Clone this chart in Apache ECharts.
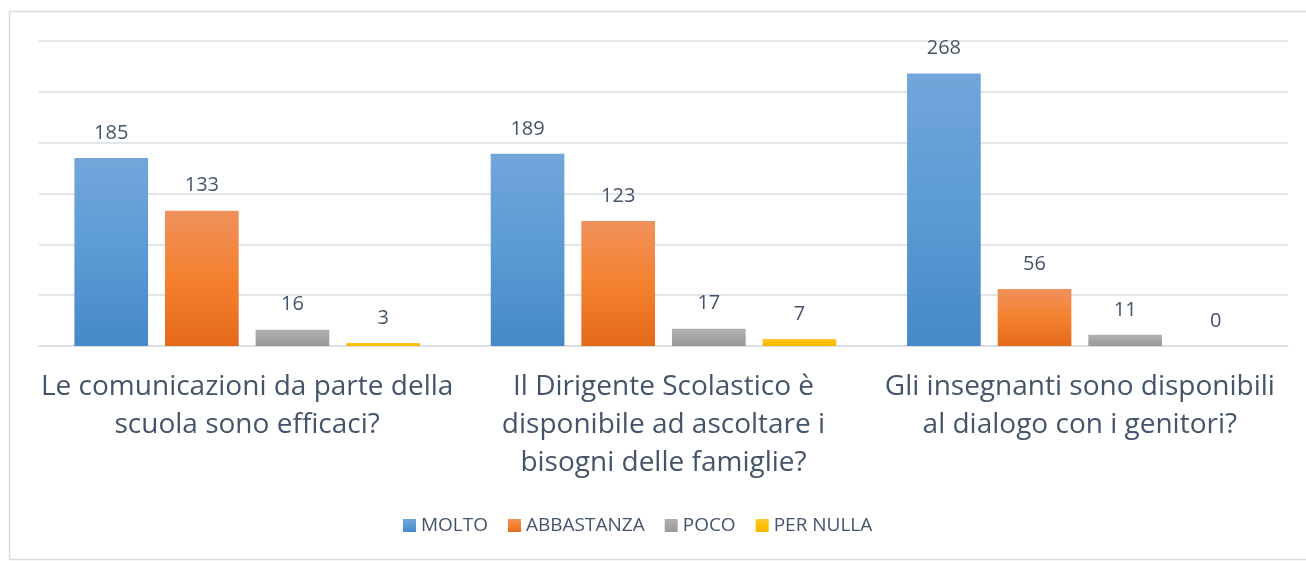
<!DOCTYPE html>
<html>
<head>
<meta charset="utf-8">
<script src="https://cdn.jsdelivr.net/npm/echarts@6/dist/echarts.min.js"></script>
<style>
  html, body { margin: 0; padding: 0; background: #fff; }
  #chart { width: 1306px; height: 561px; }
</style>
</head>
<body>
<div id="chart"></div>
<script>
// Chart data
const categories = [
  'Le comunicazioni da parte della\nscuola sono efficaci?',
  'Il Dirigente Scolastico è\ndisponibile ad ascoltare i\nbisogni delle famiglie?',
  'Gli insegnanti sono disponibili\nal dialogo con i genitori?'
];
const seriesNames = ['MOLTO', 'ABBASTANZA', 'POCO', 'PER NULLA'];
const molto = [185, 189, 268];
const abbastanza = [133, 123, 56];
const poco = [16, 17, 11];
const perNulla = [3, 7, 0];

const textColor = '#44546a';
const fontFamily = '"Open Sans", Lato, sans-serif';

// Excel-like vertical gradients [top, middle, bottom]
const gradients = [
  ['#72a6db', '#5b9bd5', '#4689c9'],
  ['#f0915c', '#f4812f', '#e46a19'],
  ['#b1b1b1', '#a5a5a5', '#999999'],
  ['#ffc83a', '#ffc000', '#f5b800']
];

function makeGradient(c) {
  return new echarts.graphic.LinearGradient(0, 0, 0, 1, [
    { offset: 0, color: c[0] },
    { offset: 0.5, color: c[1] },
    { offset: 1, color: c[2] }
  ]);
}

const chart = echarts.init(document.getElementById('chart'));

const values = [molto, abbastanza, poco, perNulla];

const option = {
  animation: false,
  graphic: [{
    type: 'rect',
    shape: { x: 9.5, y: 11.5, width: 1300, height: 548 },
    style: { fill: 'none', stroke: '#d9dde3', lineWidth: 1.5 },
    silent: true
  }],
  legend: {
    data: seriesNames,
    top: 511,
    left: 398,
    itemWidth: 13,
    itemHeight: 13,
    itemGap: 20,
    icon: 'rect',
    textStyle: { color: textColor, fontSize: 19, fontFamily: fontFamily }
  },
  grid: { left: 39, right: 18, top: 41, bottom: 215 },
  xAxis: {
    type: 'category',
    data: categories,
    axisLine: { lineStyle: { color: '#d9dde3', width: 1.5 } },
    axisTick: { show: false },
    axisLabel: {
      color: textColor,
      fontSize: 28,
      fontFamily: fontFamily,
      lineHeight: 38,
      margin: 22,
      interval: 0,
      align: 'center'
    }
  },
  yAxis: {
    type: 'value',
    min: 0,
    max: 300,
    interval: 50,
    axisLabel: { show: false },
    axisLine: { show: false },
    axisTick: { show: false },
    splitLine: { lineStyle: { color: '#d9dde3', width: 1.5 } }
  },
  series: seriesNames.map((name, i) => ({
    name: name,
    type: 'bar',
    data: values[i],
    barGap: '23%',
    barCategoryGap: '17%',
    itemStyle: { color: makeGradient(gradients[i]) },
    label: {
      show: true,
      position: 'top',
      distance: 15,
      color: textColor,
      fontSize: 20,
      fontFamily: fontFamily
    }
  }))
};

chart.setOption(option);

window.addEventListener('resize', function() {
  chart.resize();
});
</script>
</body>
</html>
